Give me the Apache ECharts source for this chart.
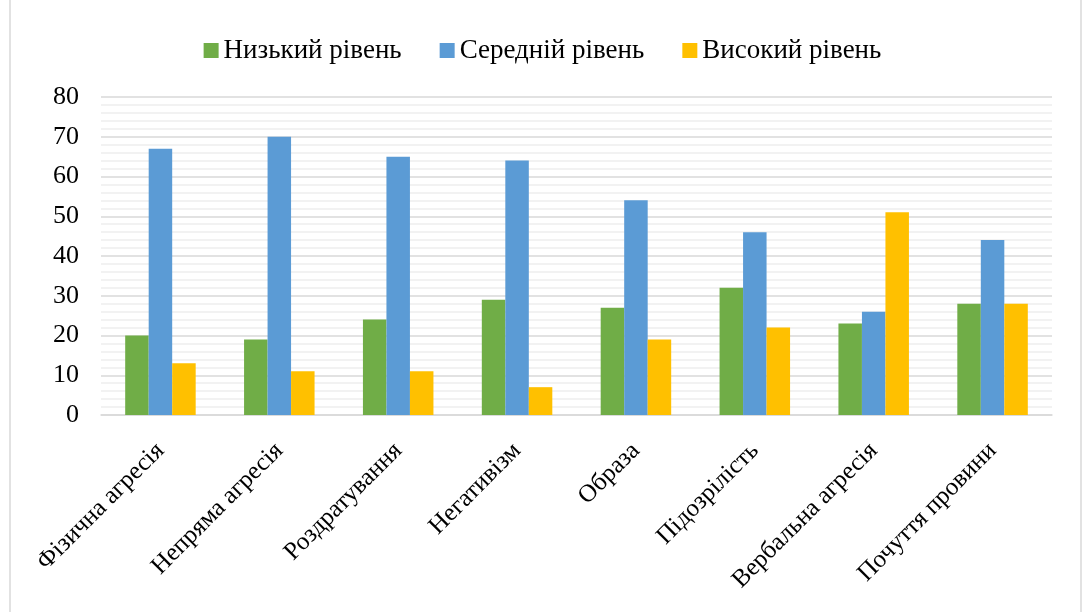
<!DOCTYPE html>
<html>
<head>
<meta charset="utf-8">
<script src="https://cdn.jsdelivr.net/npm/echarts@6/dist/echarts.min.js"></script>
<style>
html,body{margin:0;padding:0;background:#fff;}
#chart{width:1085px;height:612px;}
</style>
</head>
<body>
<div id="chart"></div>
<script>
var categories=['Фізична агресія','Непряма агресія','Роздратування','Негативізм','Образа','Підозрілість','Вербальна агресія','Почуття провини'];
var seriesNames=['Низький рівень','Середній рівень','Високий рівень'];
var lowLevel=[20,19,24,29,27,32,23,28];
var midLevel=[67,70,65,64,54,46,26,44];
var highLevel=[13,11,11,7,19,22,51,28];
var colors=['#70AD47','#5B9BD5','#FFC000'];

var font='"Liberation Serif","Times New Roman",serif';
var myChart=echarts.init(document.getElementById('chart'));
var values=[lowLevel,midLevel,highLevel];
var datas=[];
for(var i=0;i<seriesNames.length;i++)
{
    datas.push({
        name:seriesNames[i],
        type:'bar',
        data:values[i],
        barWidth:23.5,
        barGap:'0%',
        itemStyle:{color:colors[i]}
    });
}
var option={
    animation:false,
    graphic:[{
        type:'rect',
        shape:{x:10,y:-2,width:1071,height:616},
        style:{fill:'none',stroke:'#d9d9d9',lineWidth:1.5}
    }],
    legend:{
        top:32,
        left:'center',
        itemWidth:15,
        itemHeight:15,
        itemGap:38,
        icon:'rect',
        textStyle:{fontFamily:font,fontSize:27,color:'#000'},
        data:seriesNames
    },
    grid:{
        left:101,
        right:33,
        top:97,
        bottom:197,
        containLabel:false
    },
    xAxis:{
        type:'category',
        data:categories,
        axisTick:{show:false},
        axisLine:{lineStyle:{color:'#d9d9d9',width:1.5}},
        axisLabel:{
            interval:0,
            rotate:45,
            margin:32,
            fontFamily:font,
            fontSize:25,
            color:'#000'
        }
    },
    yAxis:{
        type:'value',
        min:0,
        max:80,
        interval:10,
        axisLine:{show:false},
        axisTick:{show:false},
        axisLabel:{fontFamily:font,fontSize:26,color:'#000',margin:22},
        splitLine:{lineStyle:{color:'#d9d9d9',width:1.5}},
        minorTick:{show:false,splitNumber:5},
        minorSplitLine:{show:true,lineStyle:{color:'#eeeeee',width:1.5}}
    },
    series:datas
};
myChart.setOption(option);
</script>
</body>
</html>
